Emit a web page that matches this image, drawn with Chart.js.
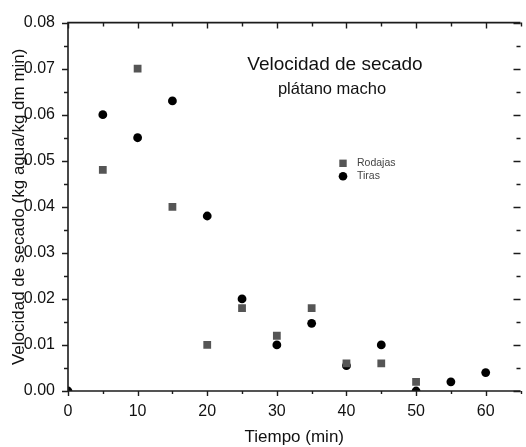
<!DOCTYPE html>
<html>
<head>
<meta charset="utf-8">
<script src="https://cdn.jsdelivr.net/npm/chart.js@4.4.1/dist/chart.umd.min.js"></script>
<style>
  html, body { margin: 0; padding: 0; background: #fff; overflow: hidden; }
  #wrap { width: 526px; height: 447px; }
</style>
</head>
<body>
<div id="wrap"><canvas id="chart"></canvas></div>
<script>
// Velocidad de secado del plátano macho
const tiempoRodajas = [5, 10, 15, 20, 25, 30, 35, 40, 45, 50];
const velRodajas = [0.048, 0.070, 0.040, 0.010, 0.018, 0.012, 0.018, 0.006, 0.006, 0.002];

const tiempoTiras = [0, 5, 10, 15, 20, 25, 30, 35, 40, 45, 50, 55, 60];
const velTiras = [0, 0.060, 0.055, 0.063, 0.038, 0.020, 0.010, 0.0147, 0.0055, 0.010, 0, 0.002, 0.004];

const tituloLineas = ['Velocidad de secado', 'plátano macho'];
const serieNombres = ['Rodajas', 'Tiras'];

const FONT = "'Liberation Sans', Arial, sans-serif";
const INK = '#111';

const toPoints = (xs, ys) => xs.map((t, i) => ({x: t, y: ys[i]}));

// marco con marcas mayores/menores, título interno y leyenda
const marcoPlugin = {
  id: 'marco',
  afterDatasetsDraw(chart) {
    const {ctx, chartArea: a, scales: {x, y}} = chart;
    ctx.save();
    ctx.strokeStyle = '#1c1c1c';
    ctx.lineWidth = 1.6;
    ctx.beginPath();
    ctx.moveTo(a.right, a.top); ctx.lineTo(a.left, a.top);
    ctx.lineTo(a.left, a.bottom); ctx.lineTo(a.right, a.bottom);
    ctx.stroke();

    ctx.lineWidth = 1.4;
    ctx.beginPath();
    for (let v = 0; v <= x.max; v += 5) {
      const px = Math.round(x.getPixelForValue(v)) + 0.5;
      const mayor = v % 10 === 0;
      ctx.moveTo(px, a.bottom); ctx.lineTo(px, a.bottom + (mayor ? 5 : 3));
      ctx.moveTo(px, a.top); ctx.lineTo(px, a.top + (mayor ? 6 : 4));
    }
    for (let i = 0; i <= 16; i++) {
      const py = Math.round(y.getPixelForValue(i * 0.005)) + 0.5;
      const mayor = i % 2 === 0;
      ctx.moveTo(a.left, py); ctx.lineTo(a.left - (mayor ? 6 : 4), py);
      ctx.moveTo(a.right, py); ctx.lineTo(a.right - (mayor ? 7 : 4), py);
    }
    ctx.stroke();

    // título dentro del área
    ctx.fillStyle = INK;
    ctx.textAlign = 'center';
    ctx.textBaseline = 'middle';
    ctx.font = '19px ' + FONT;
    ctx.fillText(tituloLineas[0], 335, 65);
    ctx.font = '16.5px ' + FONT;
    ctx.fillText(tituloLineas[1], 332, 89);

    // leyenda
    const ds = chart.data.datasets;
    ctx.font = '10.5px ' + FONT;
    ctx.textAlign = 'left';
    ctx.fillStyle = ds[0].backgroundColor;
    ctx.fillRect(339.3, 159.6, 7.4, 7.4);
    ctx.fillStyle = ds[1].backgroundColor;
    ctx.beginPath();
    ctx.arc(343, 176.3, 4.3, 0, Math.PI * 2);
    ctx.fill();
    ctx.fillStyle = '#444';
    ctx.fillText(serieNombres[0], 357, 163.5);
    ctx.fillText(serieNombres[1], 357, 176.5);
    ctx.restore();
  }
};

new Chart(document.getElementById('chart'), {
  type: 'scatter',
  data: {
    datasets: [
      {
        label: serieNombres[0],
        data: toPoints(tiempoRodajas, velRodajas),
        pointStyle: 'rect',
        pointRadius: 5.5,
        backgroundColor: '#555',
        borderColor: '#555',
        borderWidth: 0,
        clip: 0
      },
      {
        label: serieNombres[1],
        data: toPoints(tiempoTiras, velTiras),
        pointStyle: 'circle',
        pointRadius: 4.4,
        backgroundColor: '#000',
        borderColor: '#000',
        borderWidth: 0,
        clip: 0
      }
    ]
  },
  options: {
    responsive: true,
    maintainAspectRatio: false,
    animation: false,
    layout: { padding: { top: 22, right: 0, bottom: 0, left: 0 } },
    plugins: { legend: { display: false }, tooltip: { enabled: false } },
    scales: {
      x: {
        type: 'linear',
        min: 0,
        max: 65,
        border: { display: false },
        grid: { display: false, drawTicks: false },
        ticks: {
          stepSize: 10,
          includeBounds: false,
          padding: 11,
          color: INK,
          font: { family: FONT, size: 16 },
          maxRotation: 0
        },
        title: {
          display: true,
          text: 'Tiempo (min)',
          color: INK,
          font: { family: FONT, size: 17 },
          padding: { top: 0, bottom: -1 }
        },
        afterFit(s) { s.height = 56; }
      },
      y: {
        min: 0,
        max: 0.08,
        border: { display: false },
        grid: { display: false, drawTicks: false },
        ticks: {
          stepSize: 0.01,
          padding: 13,
          color: INK,
          font: { family: FONT, size: 16 },
          callback: v => v.toFixed(2)
        },
        title: {
          display: true,
          text: 'Velocidad de secado (kg agua/kg dm min)',
          color: INK,
          font: { family: FONT, size: 17 },
          padding: { top: 9, bottom: 0 }
        },
        afterFit(s) { s.width = 68; }
      }
    }
  },
  plugins: [marcoPlugin]
});
</script>
</body>
</html>
